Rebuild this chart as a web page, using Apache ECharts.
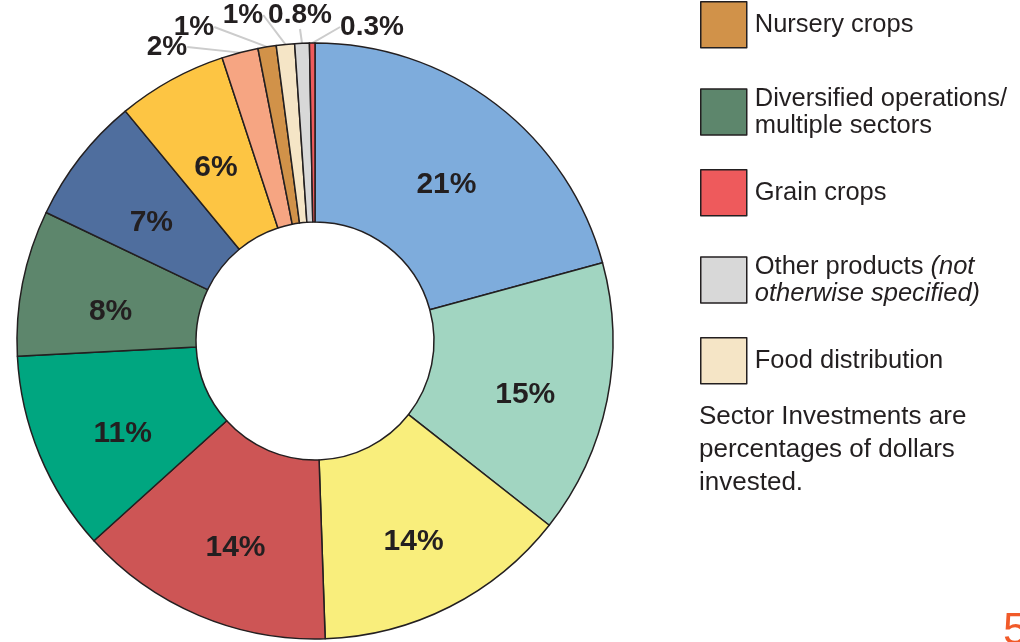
<!DOCTYPE html>
<html>
<head>
<meta charset="utf-8">
<title>Sector Investments</title>
<script src="https://cdn.jsdelivr.net/npm/echarts@6/dist/echarts.min.js"></script>
<style>
  html, body { margin: 0; padding: 0; background: #fff; }
  #main { width: 1020px; height: 642px; }
</style>
</head>
<body>
<div id="main"></div>
<script>
// slice values, clockwise from 12 o'clock
var sectors = ['Sector 1', 'Sector 2', 'Sector 3', 'Sector 4', 'Sector 5',
  'Diversified operations/ multiple sectors', 'Sector 7', 'Sector 8', 'Sector 9',
  'Nursery crops', 'Food distribution', 'Other products', 'Grain crops'];
var values = [21, 15, 14, 14, 11, 8, 7, 6, 2, 1, 1, 0.8, 0.3];
var labels = ['21%', '15%', '14%', '14%', '11%', '8%', '7%', '6%', '2%', '1%', '1%', '0.8%', '0.3%'];
var colors = ['#7eacdc', '#a1d5c1', '#f9ee7c', '#cd5555', '#00a680', '#5d866c',
  '#4f6e9e', '#fdc543', '#f6a582', '#d19249', '#f5e5c6', '#d8d8d8', '#ee5a5c'];
// legend as shown (only part of it is visible)
var legendNames = ['Nursery crops', 'Diversified operations/ multiple sectors',
  'Grain crops', 'Other products', 'Food distribution'];

var ink = '#231f20';
var font = '"Liberation Sans", Arial, sans-serif';

// where the small outer labels sit
var outerPos = {
  8: [167, 47],
  9: [194, 27],
  10: [243, 15],
  11: [300, 15],
  12: [372, 27]
};

var data = values.map(function (v, i) {
  var small = i >= 8;
  return {
    name: sectors[i],
    value: v,
    itemStyle: { color: colors[i] },
    label: small ? {
      show: true,
      position: 'outside',
      fontSize: 28,
      formatter: labels[i]
    } : {
      show: true,
      position: 'inside',
      fontSize: 30,
      offset: [3, 12],
      formatter: labels[i]
    },
    labelLine: { show: small }
  };
});

var legends = legendNames.map(function (n, i) {
  return {
    data: [n],
    orient: 'vertical',
    left: 700,
    top: 1 + 84 * i,
    padding: 0,
    itemWidth: 46,
    itemHeight: 46,
    icon: 'rect',
    selectedMode: false,
    itemStyle: { borderColor: ink, borderWidth: 1.5 },
    textStyle: {
      fontFamily: font,
      fontSize: 25.5,
      color: ink,
      lineHeight: 27,
      padding: [0, 0, 0, 3],
      rich: {
        i: { fontStyle: 'italic', fontSize: 25.5, color: ink, fontFamily: font, lineHeight: 27 }
      }
    },
    formatter: function (name) {
      if (name.indexOf('Diversified') === 0) return 'Diversified operations/\nmultiple sectors';
      if (name === 'Other products') return 'Other products {i|(not}\n{i|otherwise specified)}';
      return name;
    }
  };
});

var chart = echarts.init(document.getElementById('main'));
chart.setOption({
  animation: false,
  title: [
    {
      text: 'Sector Investments are\npercentages of dollars\ninvested.',
      left: 699,
      top: 400,
      padding: 0,
      textStyle: { fontFamily: font, fontSize: 26, fontWeight: 'normal', color: ink, lineHeight: 33 }
    },
    {
      text: '5',
      left: 1003,
      top: 610,
      padding: 0,
      textStyle: { fontFamily: font, fontSize: 44, fontWeight: 'normal', color: '#f15a29' }
    }
  ],
  legend: legends,
  series: [{
    type: 'pie',
    center: [315, 341],
    radius: [119, 298],
    startAngle: 90,
    clockwise: true,
    avoidLabelOverlap: false,
    data: data,
    itemStyle: { borderColor: ink, borderWidth: 1.5 },
    label: {
      fontFamily: font,
      fontWeight: 'bold',
      color: ink
    },
    labelLine: {
      length: 10,
      length2: 0,
      lineStyle: { color: '#cccccc', width: 2 }
    },
    labelLayout: function (p) {
      var pos = outerPos[p.dataIndex];
      if (!pos) return {};
      return { x: pos[0], y: pos[1], align: 'center', verticalAlign: 'middle' };
    }
  }]
});
</script>
</body>
</html>
